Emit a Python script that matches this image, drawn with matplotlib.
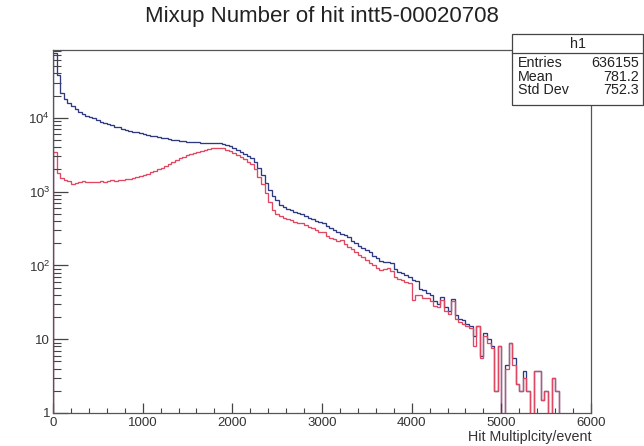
import numpy as np
import matplotlib.pyplot as plt
from matplotlib.ticker import FixedLocator, FixedFormatter, LogLocator, MultipleLocator

plt.rcParams['font.family'] = ['Liberation Sans', 'DejaVu Sans']
plt.rcParams['mathtext.fontset'] = 'custom'
plt.rcParams['mathtext.rm'] = 'Liberation Sans'
plt.rcParams['mathtext.it'] = 'Liberation Sans'

# histogram binning: 150 bins of width 40 from 0 to 6000
bin_lo = 0
bin_hi = 6000
n_bins = 150

# all hits (blue)
h_all = [75000, 38000, 22000, 18000, 15800, 14300, 13000, 12000, 11300, 10700,
         10200, 9800, 9300, 8800, 8500, 8200, 7900, 7600, 7400, 7100,
         6900, 6700, 6500, 6350, 6200, 6000, 5850, 5700, 5600, 5450,
         5350, 5250, 5150, 5050, 4950, 4900, 4800, 4750, 4700, 4650,
         4650, 4600, 4600, 4550, 4600, 4550, 4500, 4400, 4250, 4100,
         3900, 3700, 3450, 3250, 3050, 2850, 2500, 2100, 1700, 1300,
         1050, 880, 760, 660, 620, 580, 560, 530, 510, 490,
         470, 440, 420, 400, 385, 370, 340, 320, 300, 285,
         265, 255, 240, 215, 200, 185, 170, 160, 150, 135,
         125, 115, 110, 112, 108, 90, 82, 80, 74, 70,
         64, 62, 48, 46, 42, 40, 33, 30, 37, 27,
         24, 35, 21, 19, 18, 16, 15, 11, 15, 6,
         12, 10, 8, 2, 8, 0, 4.5, 9, 5.5, 2.5,
         2, 3.7, 2, 0, 3.7, 3.7, 1.5, 2, 0, 3,
         2, 0, 0, 0, 0, 0, 0, 0, 0, 0]

# mixup hits (red)
h_mix = [3400, 1800, 1550, 1450, 1400, 1280, 1300, 1350, 1380, 1330,
         1370, 1350, 1360, 1380, 1340, 1400, 1420, 1400, 1430, 1450,
         1480, 1500, 1540, 1580, 1620, 1680, 1750, 1830, 1900, 2000,
         2120, 2250, 2400, 2550, 2700, 2850, 2950, 3100, 3250, 3350,
         3450, 3550, 3650, 3750, 3850, 3900, 3950, 3850, 3700, 3550,
         3350, 3150, 2950, 2750, 2550, 2400, 2050, 1600, 1250, 950,
         720, 560, 500, 460, 440, 430, 410, 390, 380, 370,
         355, 335, 320, 300, 285, 280, 250, 235, 225, 215,
         220, 195, 180, 165, 150, 138, 128, 118, 108, 100,
         92, 88, 90, 92, 85, 70, 65, 63, 60, 58,
         34, 40, 40, 36, 36, 33, 28, 27, 34, 24,
         22, 33, 19, 17, 16, 15, 14, 8, 15, 5.5,
         11, 9, 7.5, 2, 8, 0, 4, 9, 4.5, 2.5,
         2, 3, 2, 0, 3.7, 3.7, 1.5, 2, 0, 3,
         2, 0, 0, 0, 0, 0, 0, 0, 0, 0]

y_ticks = [1, 10, 100, 1000, 10000]
y_labels = ['1', '10', '10$^{2}$', '10$^{3}$', '10$^{4}$']
x_ticks = [0, 1000, 2000, 3000, 4000, 5000, 6000]

stats_names = ['Entries', 'Mean', 'Std Dev']
stats_vals = ['636155', '781.2', '752.3']

edges = np.linspace(bin_lo, bin_hi, n_bins + 1)
floor = 0.1  # empty bins drawn down below the axis

fig = plt.figure(figsize=(6.44, 4.46), dpi=100)
ax = fig.add_axes([0.0823, 0.074, 0.8354, 0.8139])

a = np.array(h_all, dtype=float)
m = np.array(h_mix, dtype=float)
ax.stairs(np.where(a > 0, a, floor), edges, baseline=floor, color='#2e3a80', lw=0.95)
ax.stairs(np.where(m > 0, m, floor), edges, baseline=floor, color='#e04862', lw=0.95)

ax.set_yscale('log')
ax.set_xlim(bin_lo, bin_hi)
ax.set_ylim(1, 83000)

ax.yaxis.set_major_locator(FixedLocator(y_ticks))
ax.yaxis.set_major_formatter(FixedFormatter(y_labels))
ax.yaxis.set_minor_locator(LogLocator(base=10, subs=np.arange(2, 10)))
ax.yaxis.set_minor_formatter(plt.NullFormatter())
ax.xaxis.set_major_locator(FixedLocator(x_ticks))
ax.xaxis.set_minor_locator(MultipleLocator(200))

ax.tick_params(which='both', direction='in', top=False, right=False,
               color='#444444', labelcolor='#333333', labelsize=9.5)
ax.tick_params(axis='y', which='major', length=11, width=0.9, pad=2)
ax.tick_params(axis='y', which='minor', length=6, width=0.8)
ax.tick_params(axis='x', which='major', length=7, width=0.9, pad=3)
ax.tick_params(axis='x', which='minor', length=3.5, width=0.8)
for s in ax.spines.values():
    s.set_color('#555555')
    s.set_linewidth(0.9)

fig.text(0.5, 0.962, 'Mixup Number of hit intt5-00020708', ha='center', va='center',
         fontsize=16, color='#222222')
fig.text(0.918, 0.02, 'Hit Multiplcity/event', ha='right', va='center',
         fontsize=10.3, color='#333333')

# stats box
bx0, bx1 = 512 / 644, 0.999
by_top, by_div, by_bot = 1 - 34 / 446, 1 - 53 / 446, 1 - 105 / 446
box = plt.Rectangle((bx0, by_bot), bx1 - bx0, by_top - by_bot, transform=fig.transFigure,
                    facecolor='white', edgecolor='#444444', lw=0.9, zorder=5)
fig.add_artist(box)
fig.add_artist(plt.Line2D([bx0, bx1], [by_div, by_div], transform=fig.transFigure,
                          color='#444444', lw=0.9, zorder=6))
fig.text((bx0 + bx1) / 2, (by_top + by_div) / 2, 'h1', ha='center', va='center',
         fontsize=10.3, color='#222222', zorder=7)
rows_y = [63, 77, 90]
for name, val, yy in zip(stats_names, stats_vals, rows_y):
    fig.text(518 / 644, 1 - yy / 446, name, ha='left', va='center', fontsize=10.3,
             color='#222222', zorder=7)
    fig.text(639 / 644, 1 - yy / 446, val, ha='right', va='center', fontsize=10.3,
             color='#222222', zorder=7)

fig.savefig('out.png', dpi=100, facecolor='white')
